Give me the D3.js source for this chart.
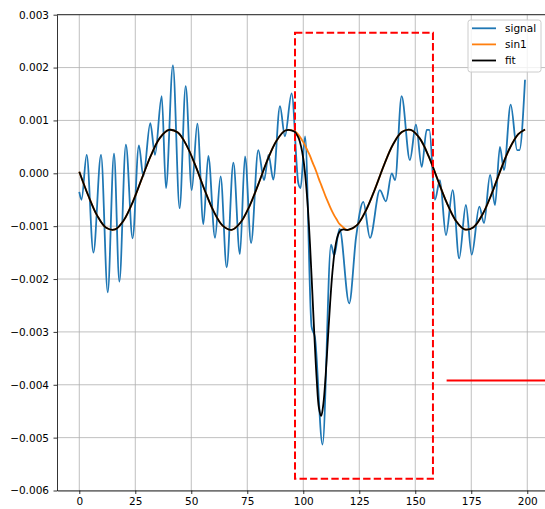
<!DOCTYPE html>
<html>
<head>
<meta charset="utf-8">
<script src="https://cdn.jsdelivr.net/npm/d3@7"></script>
<style>
  body { margin: 0; background: #fff; }
  svg { display: block; }
  text { font-family: "DejaVu Sans", sans-serif; }
</style>
</head>
<body>
<svg id="chart" width="545" height="509"></svg>
<script>
// ---- data ----
const xTicks = [0, 25, 50, 75, 100, 125, 150, 175, 200];
const yTicks = [-0.006, -0.005, -0.004, -0.003, -0.002, -0.001, 0.000, 0.001, 0.002, 0.003];

// measured signal (turning points of the trace)
const signalX = [0, 1, 3.3, 6.3, 9.7, 12.7, 15.5, 17.9, 20.8, 23.8, 26.6, 28.6, 31.7, 33.8, 36.8, 38.7,
  41.8, 44.8, 47.5, 50.2, 52.7, 55.4, 57.6, 60.6, 63.1, 65.8, 68.8, 71.7, 74, 76.7, 79.9, 82.5, 84.5,
  86.6, 89.6, 91.8, 94.8, 97.8, 98.8, 100.8, 103.7, 105.2, 108.6, 112.4, 113.8, 116.2, 120.5, 123.6,
  126.8, 129.8, 134.2, 136.9, 139.5, 141, 143.9, 147.6, 150.3, 152.9, 155.1, 156.3, 158.8, 161, 163.7,
  166.7, 169.6, 172.6, 175.2, 178.6, 180.7, 183.4, 185.6, 187.8, 189.6, 192.6, 195.5, 196.5, 199];
const signalY = [-0.00035, -0.0005, 0.00035, -0.0015, 0.00035, -0.00225, 0.00037, -0.00205, 0.00054,
  -0.00123, 0.00053, -0.00006, 0.00095, 0.00035, 0.00146, -0.00028, 0.00204, -0.00066, 0.00165,
  -0.00032, 0.00094, -0.00096, 0.00033, -0.00122, -0.00006, -0.00178, 0.0002, -0.00153, 0.00032,
  -0.00132, 0.00044, -0.00013, 0.00035, -0.00012, 0.00127, 0.0007, 0.00151, -0.00019, -0.00028,
  0.0007, -0.0029, -0.0031, -0.00513, -0.00135, -0.00155, -0.00105, -0.00246, -0.0012, -0.00054,
  -0.00122, -0.00032, -0.00053, 0.0, -0.00013, 0.00146, 0.00025, 0.00092, 0.00012, 0.00082, 0.00082,
  -0.0005, -0.00013, -0.00117, -0.00032, -0.00161, -0.0006, -0.00154, -0.00063, -0.00094, -0.00003,
  -0.0006, 0.0005, 0.00006, 0.0013, 0.00044, 0.00044, 0.00177];

// model curves sampled along x
const modelX = [0, 4, 8, 12, 16, 20, 24, 28, 32, 36, 40, 44, 48, 52, 56, 60, 64, 68, 72, 76, 80, 84, 88, 92,
  96, 97, 98, 99, 100, 101, 102, 103, 104, 105, 106, 107, 108, 109, 110, 111, 112, 113, 114, 115, 116,
  117, 118, 119, 120, 124, 128, 132, 136, 140, 144, 148, 152, 156, 160, 164, 168, 172, 176, 180, 184,
  188, 192, 196, 199];
const sin1Y = [0.00003, -0.00042, -0.0008, -0.00103, -0.00106, -0.00088, -0.00053, -0.00009, 0.00034,
  0.00067, 0.00082, 0.00077, 0.00052, 0.00013, -0.00032, -0.00072, -0.00099, -0.00107, -0.00093,
  -0.00062, -0.0002, 0.00025, 0.00061, 0.00081,
  0.0008, 0.00077, 0.00072, 0.00066, 0.00059, 0.00051, 0.00042, 0.00033, 0.00022, 0.00012, 0.00001,
  -0.00011, -0.00022, -0.00033, -0.00044, -0.00054, -0.00064, -0.00073, -0.00081, -0.00088, -0.00095,
  -0.00099, -0.00103, -0.00106, -0.00107, -0.00098, -0.0007, -0.0003, 0.00015, 0.00054, 0.00078,
  0.00082, 0.00066, 0.00032, -0.00012, -0.00055, -0.00089, -0.00106, -0.00102, -0.00078, -0.0004,
  0.00005, 0.00046, 0.00074, 0.00083];
const fitY = [0.00003, -0.00042, -0.0008, -0.00103, -0.00106, -0.00088, -0.00053, -0.00009, 0.00034,
  0.00067, 0.00082, 0.00077, 0.00052, 0.00013, -0.00032, -0.00072, -0.00099, -0.00107, -0.00093,
  -0.00062, -0.0002, 0.00025, 0.00061, 0.00081,
  0.00079, 0.00074, 0.00066, 0.00051, 0.00028, -0.00009, -0.00062, -0.00134, -0.00221, -0.00311,
  -0.0039, -0.00444, -0.00459, -0.00435, -0.00382, -0.00313, -0.00245, -0.00188, -0.00148, -0.00124,
  -0.00112, -0.00107, -0.00106, -0.00107, -0.00107, -0.00098, -0.0007, -0.0003, 0.00015, 0.00054,
  0.00078, 0.00082, 0.00066, 0.00032, -0.00012, -0.00055, -0.00089, -0.00106, -0.00102, -0.00078,
  -0.0004, 0.00005, 0.00046, 0.00074, 0.00083];

// highlighted window and reference level
const boxX = [96.3, 157.9];
const boxY = [-0.00578, 0.00266];
const levelX = [164, 215];
const levelY = -0.00392;

const legendLabels = ["signal", "sin1", "fit"];
const colors = { signal: "#1f77b4", sin1: "#ff7f0e", fit: "#000000" };

// ---- layout ----
const svg = d3.select("#chart");
const plotLeft = 57, plotRight = 547.3, plotTop = 14.7, plotBottom = 490.5;
const x = d3.scaleLinear().domain([-9.95, 208.95]).range([plotLeft, plotRight]);
const y = d3.scaleLinear().domain([-0.006, 0.003]).range([plotBottom, plotTop]);

svg.append("defs").append("clipPath").attr("id", "plot")
  .append("rect").attr("x", plotLeft).attr("y", plotTop)
  .attr("width", plotRight - plotLeft).attr("height", plotBottom - plotTop);

// grid
const grid = svg.append("g").attr("stroke", "#b0b0b0").attr("stroke-width", 0.8);
grid.selectAll(".gx").data(xTicks).join("line").attr("class", "gx")
  .attr("x1", d => x(d)).attr("x2", d => x(d)).attr("y1", plotTop).attr("y2", plotBottom);
grid.selectAll(".gy").data(yTicks).join("line").attr("class", "gy")
  .attr("y1", d => y(d)).attr("y2", d => y(d)).attr("x1", plotLeft).attr("x2", plotRight);

// series
const plot = svg.append("g").attr("clip-path", "url(#plot)");
const sig = signalX.map((d, i) => [d, signalY[i]]);
const s1 = modelX.map((d, i) => [d, sin1Y[i]]);
const ft = modelX.map((d, i) => [d, fitY[i]]);

const lineSig = d3.line().x(d => x(d[0])).y(d => y(d[1])).curve(d3.curveMonotoneX);
const lineModel = d3.line().x(d => x(d[0])).y(d => y(d[1])).curve(d3.curveCatmullRom.alpha(0.5));

plot.append("path").attr("d", lineSig(sig)).attr("fill", "none")
  .attr("stroke", colors.signal).attr("stroke-width", 1.8).attr("stroke-linejoin", "round");
plot.append("path").attr("d", lineModel(s1)).attr("fill", "none")
  .attr("stroke", colors.sin1).attr("stroke-width", 1.8);
plot.append("path").attr("d", lineModel(ft)).attr("fill", "none")
  .attr("stroke", colors.fit).attr("stroke-width", 1.8);

// dashed window
plot.append("rect")
  .attr("x", x(boxX[0])).attr("y", y(boxY[1]))
  .attr("width", x(boxX[1]) - x(boxX[0])).attr("height", y(boxY[0]) - y(boxY[1]))
  .attr("fill", "none").attr("stroke", "red").attr("stroke-width", 2)
  .attr("stroke-dasharray", "7.4,3.2");

// reference level
plot.append("line")
  .attr("x1", x(levelX[0])).attr("x2", x(levelX[1]))
  .attr("y1", y(levelY)).attr("y2", y(levelY))
  .attr("stroke", "red").attr("stroke-width", 2);

// axes
const fmt = d => (d < 0 ? "\u2212" : "") + Math.abs(d).toFixed(3);
const ax = svg.append("g").attr("transform", `translate(0,${plotBottom})`)
  .call(d3.axisBottom(x).tickValues(xTicks).tickSize(3.5).tickSizeOuter(0).tickPadding(4));
const ay = svg.append("g").attr("transform", `translate(${plotLeft},0)`)
  .call(d3.axisLeft(y).tickValues(yTicks).tickFormat(fmt).tickSize(3.5).tickSizeOuter(0).tickPadding(4.5));
[ax, ay].forEach(g => {
  g.selectAll("text").attr("font-size", "10.5px").attr("fill", "#000")
    .attr("font-family", "DejaVu Sans, sans-serif");
  g.selectAll("line").attr("stroke", "#000").attr("stroke-width", 0.8);
  g.select(".domain").attr("stroke", "#000").attr("stroke-width", 0.8);
});
svg.append("line").attr("x1", plotLeft).attr("x2", plotRight).attr("y1", plotTop).attr("y2", plotTop)
  .attr("stroke", "#000").attr("stroke-width", 0.8);

// legend
const lg = svg.append("g");
lg.append("rect").attr("x", 468).attr("y", 20).attr("width", 73).attr("height", 52)
  .attr("rx", 2.5).attr("fill", "#fff").attr("fill-opacity", 0.8)
  .attr("stroke", "#cccccc").attr("stroke-width", 1);
legendLabels.forEach((name, i) => {
  const yy = 28.3 + i * 16.1;
  lg.append("line").attr("x1", 472).attr("x2", 496).attr("y1", yy).attr("y2", yy)
    .attr("stroke", colors[name]).attr("stroke-width", 1.8);
  lg.append("text").attr("x", 505).attr("y", yy).attr("dy", "0.35em")
    .attr("font-size", "10.5px").attr("fill", "#000").text(name);
});
</script>
</body>
</html>
